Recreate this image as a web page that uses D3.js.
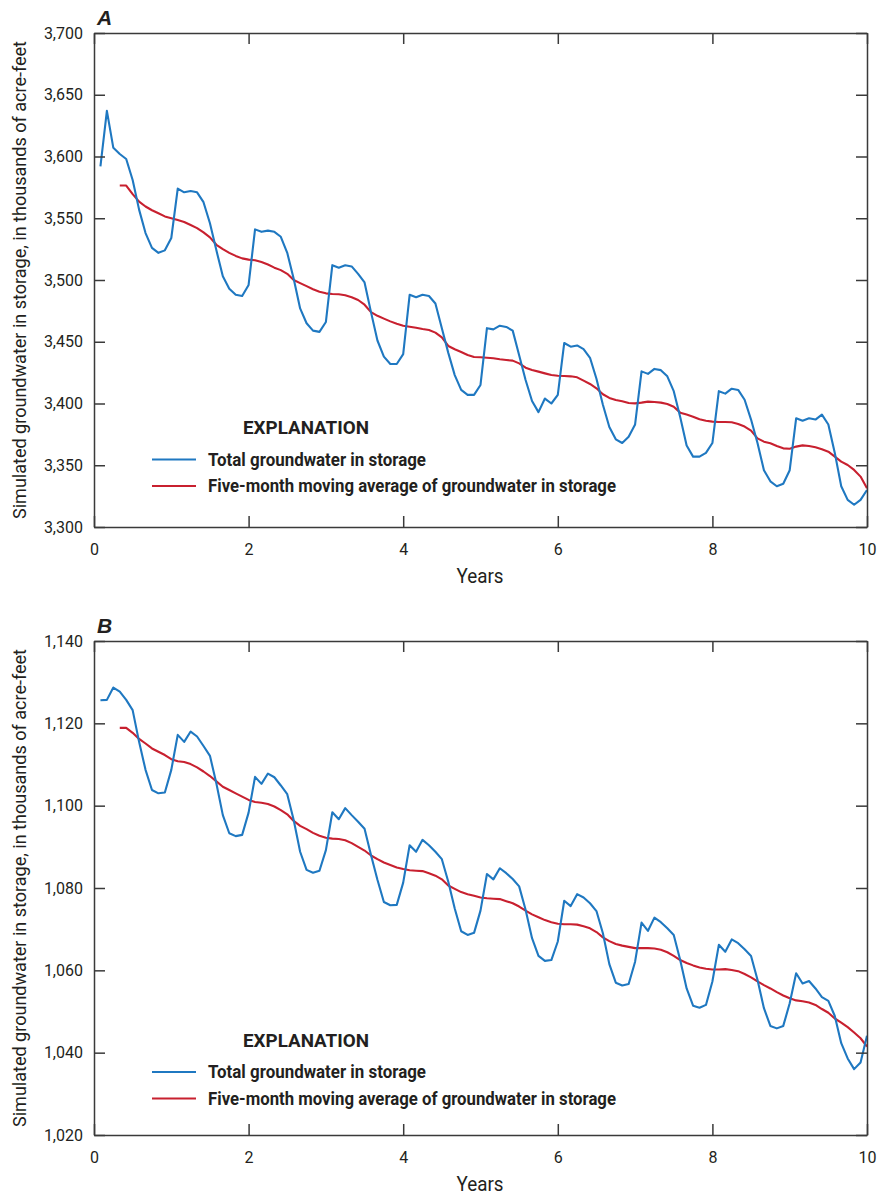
<!DOCTYPE html>
<html>
<head>
<meta charset="utf-8">
<script src="https://cdn.jsdelivr.net/npm/d3@7"></script>
<style>
  html, body { margin: 0; padding: 0; background: #fff; }
  svg { display: block; }
  text { font-family: "Liberation Sans Narrow", "Roboto", "Liberation Sans", sans-serif; fill: #231f20; }
</style>
</head>
<body>
<div id="chart"></div>
<script>
// ---------------- DATA ----------------
const xTicks = [0, 2, 4, 6, 8, 10];
const yTicksA = [3300, 3350, 3400, 3450, 3500, 3550, 3600, 3650, 3700];
const yTicksB = [1020, 1040, 1060, 1080, 1100, 1120, 1140];
const panelLabels = ["A", "B"];
const seriesNames = ["Total groundwater in storage", "Five-month moving average of groundwater in storage"];
const yTitle = "Simulated groundwater in storage, in thousands of acre-feet";
const xTitle = "Years";
const explanation = "EXPLANATION";

// months 1..120 (x = month / 12 years)
const totalA = [3592,3637,3607,3602,3598,3581,3557,3538,3526,3522,3524,3534,
  3574,3571,3572,3571,3563,3546,3524,3503,3493,3488,3487,3496,
  3541,3539,3540,3539,3535,3522,3501,3477,3465,3459,3458,3466,
  3512,3510,3512,3511,3505,3498,3474,3451,3438,3432,3432,3440,
  3488,3486,3488,3487,3481,3461,3441,3423,3411,3407,3407,3415,
  3461,3460,3463,3462,3459,3439,3419,3402,3393,3404,3400,3407,
  3449,3446,3447,3444,3437,3420,3399,3381,3371,3368,3373,3383,
  3426,3424,3428,3427,3422,3410,3389,3366,3357,3357,3360,3368,
  3410,3408,3412,3411,3403,3387,3368,3346,3337,3333,3335,3346,
  3388,3386,3388,3387,3391,3383,3360,3333,3322,3318,3322,3330];
// months 4..120
const avgStartMonth = 4;
const avgA = [3576.5,3576.5,3569.5,3563.5,3559.5,3556.5,3554,3551.5,3550,
  3548.5,3547,3544.5,3542,3538.5,3534.5,3528.5,3525,3522,3519.5,3517.5,3516.5,
  3516,3514.5,3512.5,3510,3508,3505,3500,3497.5,3495,3492.5,3490.5,3489.2,
  3488.7,3488.4,3487.6,3486,3483.8,3480,3474,3471,3468.7,3466.5,3464.6,3463,
  3462.2,3461.4,3460.3,3459.5,3457.4,3453.6,3446.6,3443.9,3441.7,3439.3,3437.7,3437.4,
  3437.1,3436.6,3435.8,3435.2,3434.7,3432.5,3429,3427.1,3425.8,3424.4,3423.1,3422.5,
  3422.3,3422,3421.2,3418.5,3415.8,3412.3,3407.5,3404.5,3402.8,3401.8,3400.4,3400.1,
  3400.7,3401.5,3401.2,3400.7,3399.6,3397.4,3392.6,3391,3389.3,3387.2,3386.1,3385.3,
  3385,3385,3384.8,3383.4,3381.3,3378,3371.8,3369.1,3367.8,3365.6,3363.7,3363.4,
  3365.1,3366.1,3365.6,3364.5,3362.9,3361,3357,3352.9,3350.2,3346.2,3340.8,3331.3];

const totalB = [1125.6,1125.7,1128.7,1127.7,1125.7,1123.2,1115.5,1108.7,1103.8,1103,1103.2,1108.7,
  1117.2,1115.5,1118,1116.8,1114.5,1112.1,1105.4,1097.7,1093.3,1092.6,1092.9,1098.3,
  1107,1105.3,1107.8,1106.9,1104.9,1102.8,1096.5,1088.8,1084.4,1083.7,1084.2,1089.2,
  1098.4,1096.7,1099.4,1097.7,1096.1,1094.4,1088,1082,1076.6,1075.8,1075.9,1081.3,
  1090.4,1088.8,1091.7,1090.4,1088.8,1087,1081.5,1075,1069.5,1068.6,1069.1,1074.5,
  1083.4,1082.1,1084.8,1083.6,1082.2,1080.4,1074.7,1067.8,1063.5,1062.3,1062.5,1067,
  1076.9,1075.6,1078.5,1077.7,1076.3,1074.4,1069,1061.5,1057,1056.3,1056.7,1062.1,
  1071.6,1069.6,1072.8,1071.7,1070.2,1068.6,1062.5,1055.6,1051.4,1050.9,1051.6,1057.3,
  1066.2,1064.5,1067.5,1066.6,1065.1,1063.5,1057.7,1050.8,1046.5,1045.9,1046.5,1052,
  1059.3,1056.8,1057.4,1055.6,1053.5,1052.6,1048.9,1042.3,1038.6,1036,1037.6,1044.1];
const avgB = [1118.9,1118.9,1117.7,1116.2,1115.1,1113.9,1113.1,1112.3,1111.3,
  1110.8,1110.6,1110.1,1109.3,1108.3,1107.2,1105.9,1104.6,1103.8,1103,1102.2,1101.4,
  1100.9,1100.7,1100.4,1099.8,1098.9,1097.9,1096.3,1095.1,1094.3,1093.4,1092.7,1092.2,
  1092,1091.9,1091.6,1090.9,1090,1089.1,1087.9,1087,1086.2,1085.6,1085,1084.6,
  1084.3,1084.2,1084.1,1083.6,1083,1082.1,1080.6,1079.8,1079,1078.5,1078.1,1077.7,
  1077.5,1077.4,1077.3,1076.8,1076.3,1075.5,1074.5,1073.6,1072.9,1072.2,1071.7,1071.3,
  1071.2,1071.2,1071.1,1070.7,1070.2,1069.3,1068,1067.1,1066.4,1066,1065.7,1065.4,
  1065.4,1065.4,1065.3,1065,1064.4,1063.5,1062.5,1061.8,1061.2,1060.7,1060.4,1060.2,
  1060.2,1060.3,1060.1,1059.8,1059.1,1058.3,1057.3,1056.4,1055.6,1054.7,1053.9,1053.2,
  1052.7,1052.5,1052.2,1051.6,1050.6,1049.7,1048.3,1047.3,1046.2,1044.9,1043.5,1041.5];

// ---------------- LAYOUT ----------------
const W = 881, H = 1198;
const left = 94, right = 867;
const plotH = 494;
const colors = { total: "#1f78c1", avg: "#c8202f", axis: "#3a3a3a" };

const panels = [
  { label: panelLabels[0], top: 33, yTicks: yTicksA, total: totalA, avg: avgA, legTop: 434 - 33 },
  { label: panelLabels[1], top: 641, yTicks: yTicksB, total: totalB, avg: avgB, legTop: 1046.5 - 641 }
];

const svg = d3.select("#chart").append("svg").attr("width", W).attr("height", H);

const x = d3.scaleLinear().domain([0, 10]).range([left, right]);

panels.forEach(p => {
  const yDom = d3.extent(p.yTicks);
  const y = d3.scaleLinear().domain(yDom).range([p.top + plotH, p.top]);
  const g = svg.append("g");

  // lines
  const line = d3.line().x(d => x(d[0])).y(d => y(d[1]));
  const totalPts = p.total.map((v, i) => [(i + 1) / 12, v]);
  const avgPts = p.avg.map((v, i) => [(i + avgStartMonth) / 12, v]);

  g.append("path").datum(avgPts).attr("d", line)
    .attr("fill", "none").attr("stroke", colors.avg).attr("stroke-width", 2.1)
    .attr("stroke-linejoin", "round");
  g.append("path").datum(totalPts).attr("d", line)
    .attr("fill", "none").attr("stroke", colors.total).attr("stroke-width", 2.1)
    .attr("stroke-linejoin", "round");

  // axes
  const fmt = d3.format(",");
  const styleAxis = sel => {
    sel.selectAll("path.domain").attr("stroke", colors.axis).attr("stroke-width", 1.5);
    sel.selectAll(".tick line").attr("stroke", colors.axis).attr("stroke-width", 1.5);
    sel.selectAll("text").attr("fill", "#231f20").style("font-size", "16px")
      .style("font-family", '"Liberation Sans Narrow", "Roboto", sans-serif');
  };
  g.append("g").attr("transform", `translate(${left},0)`)
    .call(d3.axisLeft(y).tickValues(p.yTicks).tickFormat(fmt).tickSizeInner(-11).tickSizeOuter(0).tickPadding(11))
    .call(styleAxis);
  g.append("g").attr("transform", `translate(${right},0)`)
    .call(d3.axisRight(y).tickValues(p.yTicks).tickFormat("").tickSizeInner(-11).tickSizeOuter(0))
    .call(styleAxis);
  g.append("g").attr("transform", `translate(0,${p.top + plotH})`)
    .call(d3.axisBottom(x).tickValues(xTicks).tickFormat(d3.format("d")).tickSizeInner(-11).tickSizeOuter(0).tickPadding(17))
    .call(styleAxis);
  g.append("g").attr("transform", `translate(0,${p.top})`)
    .call(d3.axisTop(x).tickValues(xTicks).tickFormat("").tickSizeInner(-11).tickSizeOuter(0))
    .call(styleAxis);

  // panel label
  g.append("text").attr("x", 97).attr("y", p.top - 8)
    .style("font-size", "21px").style("font-weight", "bold").style("font-style", "italic")
    .style("font-family", '"Liberation Sans", Arial, sans-serif')
    .text(p.label);

  // axis titles
  const cy = p.top + plotH / 2;
  g.append("text")
    .attr("transform", `translate(26,${cy}) rotate(-90)`)
    .attr("text-anchor", "middle")
    .attr("textLength", 478).attr("lengthAdjust", "spacingAndGlyphs")
    .style("font-size", "18px")
    .text(yTitle);
  g.append("text").attr("x", 480).attr("y", p.top + plotH + 56)
    .attr("text-anchor", "middle")
    .attr("textLength", 47).attr("lengthAdjust", "spacingAndGlyphs")
    .style("font-size", "20px").text(xTitle);

  // legend
  const lt = p.top + p.legTop;
  g.append("text").attr("x", 243).attr("y", lt)
    .attr("textLength", 126).attr("lengthAdjust", "spacingAndGlyphs")
    .style("font-size", "19px").style("font-weight", "bold").text(explanation);
  const legItems = [
    { name: seriesNames[0], color: colors.total, dy: 26, tw: 218 },
    { name: seriesNames[1], color: colors.avg, dy: 52.5, tw: 408 }
  ];
  legItems.forEach(it => {
    g.append("line").attr("x1", 152).attr("x2", 196)
      .attr("y1", lt + it.dy - 0.5).attr("y2", lt + it.dy - 0.5)
      .attr("stroke", it.color).attr("stroke-width", 2.1);
    g.append("text").attr("x", 208).attr("y", lt + it.dy + 5.5)
      .attr("textLength", it.tw).attr("lengthAdjust", "spacingAndGlyphs")
      .style("font-size", "18px").style("font-weight", "bold").text(it.name);
  });
});
</script>
</body>
</html>
